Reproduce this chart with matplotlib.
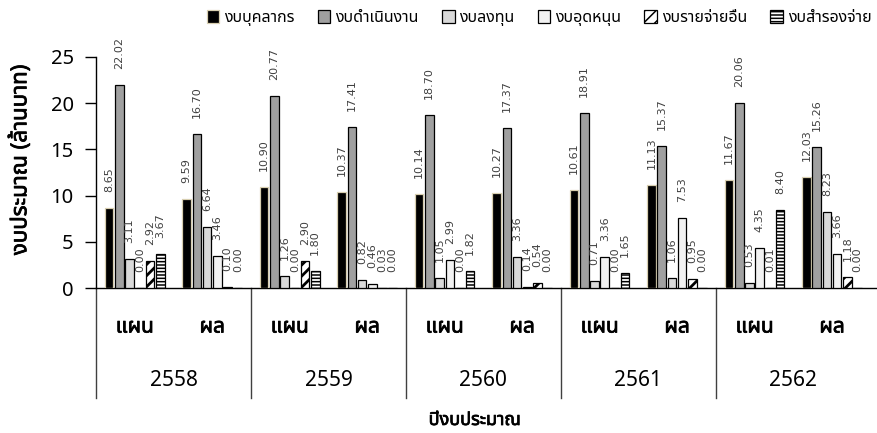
import matplotlib
matplotlib.use("Agg")
import matplotlib.pyplot as plt
from matplotlib import font_manager
from matplotlib.ft2font import FT2Font
import matplotlib.patheffects as pe
import matplotlib.transforms as mtransforms

# ---------- data ----------
years = ["2558", "2559", "2560", "2561", "2562"]
kinds = ["แผน", "ผล"]
series_names = ["งบบุคลากร", "งบดำเนินงาน", "งบลงทุน", "งบอุดหนุน", "งบรายจ่ายอื่น", "งบสำรองจ่าย"]
# order of groups: 2558 แผน, 2558 ผล, 2559 แผน, ...
personnel  = [8.65, 9.59, 10.90, 10.37, 10.14, 10.27, 10.61, 11.13, 11.67, 12.03]
operations = [22.02, 16.70, 20.77, 17.41, 18.70, 17.37, 18.91, 15.37, 20.06, 15.26]
investment = [3.11, 6.64, 1.26, 0.82, 1.05, 3.36, 0.71, 1.06, 0.53, 8.23]
subsidy    = [0.00, 3.46, 0.00, 0.46, 2.99, 0.14, 3.36, 7.53, 4.35, 3.66]
other      = [2.92, 0.10, 2.90, 0.03, 0.00, 0.54, 0.00, 0.95, 0.01, 1.18]
reserve    = [3.67, 0.00, 1.80, 0.00, 1.82, 0.00, 1.65, 0.00, 8.40, 0.00]
yticks = [0, 5, 10, 15, 20, 25]

# ---------- font with Thai glyphs ----------
pref = ["Tahoma", "Leelawadee UI", "Leelawadee", "Noto Sans Thai", "Noto Sans Thai UI",
        "Noto Sans Thai Looped", "Sarabun", "Garuda", "Loma", "Waree", "Umpush",
        "Kinnari", "Norasi", "Sawasdee", "TlwgTypo", "Laksaman"]
thai_fonts = {}
for fe in font_manager.fontManager.ttflist:
    try:
        cm = FT2Font(fe.fname).get_charmap()
        if 0x0E07 in cm and 0x0E1A in cm:
            thai_fonts.setdefault(fe.name, fe.fname)
    except Exception:
        pass
thai = None
for p in pref:
    if p in thai_fonts:
        thai = p
        break
if thai is None and thai_fonts:
    thai = sorted(thai_fonts)[0]
fams = ([thai] if thai else []) + ["DejaVu Sans"]
plt.rcParams["font.family"] = fams

bold = [pe.withStroke(linewidth=0.55, foreground="black")]

# ---------- figure ----------
W, H = 878, 433
fig = plt.figure(figsize=(W / 100, H / 100), dpi=100)
ax_l, ax_r, ax_t, ax_b = 96, 877, 57, 288
ax = fig.add_axes([ax_l / W, 1 - ax_b / H, (ax_r - ax_l) / W, (ax_b - ax_t) / H])

data = [personnel, operations, investment, subsidy, other, reserve]
faces = ["#000000", "#a0a0a0", "#d9d9d9", "#f2f2f2", "#ffffff", "#ffffff"]
edges = ["#d8cfb0", "#000000", "#000000", "#000000", "#000000", "#000000"]
hatches = [None, None, None, None, "///", "-----"]
hlw = [1.0, 1.0, 1.0, 1.0, 2.0, 1.1]

n = len(personnel)
pitch = 0.132
bw = 0.11
xs = list(range(n))
for i, (vals, fc, ec, ht) in enumerate(zip(data, faces, edges, hatches)):
    plt.rcParams["hatch.linewidth"] = hlw[i]
    pos = [x + (i - 2.5) * pitch for x in xs]
    bars = ax.bar(pos, vals, width=bw, color=fc, edgecolor=ec, linewidth=0.9,
                  hatch=ht, label=series_names[i], zorder=3)
    for b, v in zip(bars, vals):
        ax.annotate(f"{v:.2f}", xy=(b.get_x() + b.get_width() / 2, v),
                    xytext=(0, 16), textcoords="offset pixels",
                    rotation=90, ha="center", va="bottom", fontsize=8,
                    color="#404040", family=["DejaVu Sans"], zorder=4)

ax.set_xlim(-0.5, n - 0.5 + 0.08)
ax.set_ylim(0, 25)
ax.set_yticks(yticks)
ax.tick_params(axis="y", direction="out", length=8, width=1, labelsize=14.5, pad=8)
ax.set_xticks([])
for s in ["top", "right"]:
    ax.spines[s].set_visible(False)
ax.spines["left"].set_linewidth(1)
ax.spines["bottom"].set_linewidth(1)

# category separators
trans = mtransforms.blended_transform_factory(ax.transData, ax.transAxes)
sep_len = (398 - 288) / (ax_b - ax_t)
for g in range(len(years)):
    xsep = 2 * g - 0.5
    ax.plot([xsep, xsep], [0, -sep_len], transform=trans, color="#404040",
            lw=1, clip_on=False)

# category labels
for g, yr in enumerate(years):
    for k, kd in enumerate(kinds):
        ax.annotate(kd, xy=(2 * g + k, 0), xycoords=("data", "axes fraction"),
                    xytext=(0, -39), textcoords="offset pixels",
                    ha="center", va="center", fontsize=15, path_effects=bold)
    ax.annotate(yr, xy=(2 * g + 0.5, 0), xycoords=("data", "axes fraction"),
                xytext=(0, -93), textcoords="offset pixels",
                ha="center", va="center", fontsize=15)

fig.text(475 / W, 1 - 420 / H, "ปีงบประมาณ", ha="center", va="center",
         fontsize=13, path_effects=bold)
fig.text(20 / W, 1 - 160 / H, "งบประมาณ (ล้านบาท)", rotation=90, ha="center",
         va="center", fontsize=16, path_effects=bold)

fig.legend(loc="center right", bbox_to_anchor=(878 / W, 1 - 18 / H), ncol=6,
           frameon=False, fontsize=11.5, handlelength=0.8, handleheight=0.8,
           handletextpad=0.3, columnspacing=1.45, borderaxespad=0)

fig.savefig("out.png", dpi=100)
